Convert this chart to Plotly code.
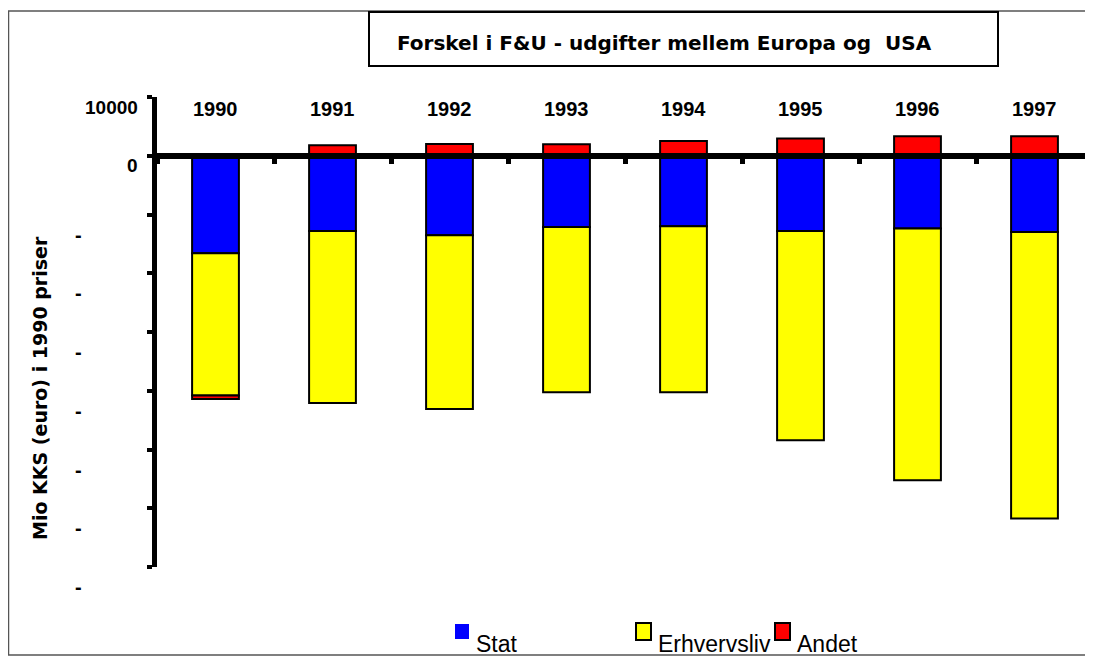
import plotly.graph_objects as go

years = ["1990", "1991", "1992", "1993", "1994", "1995", "1996", "1997"]
stat = [-16600, -12800, -13530, -12110, -12000, -12800, -12400, -12970]
erhvervsliv = [-24200, -29270, -29560, -28140, -28250, -35630, -42840, -48780]
andet = [-600, 1790, 2000, 1960, 2520, 2920, 3320, 3320]

y_ticks = [10000, 0, -10000, -20000, -30000, -40000, -50000, -60000, -70000]
y_labels = ["10000", "0", "-", "-", "-", "-", "-", "-", "-"]

title = "Forskel i F&U - udgifter mellem Europa og  USA"
y_title = "Mio KKS (euro) i 1990 priser"
series_names = ["Stat", "Erhvervsliv", "Andet"]
colors = ["#0000FF", "#FFFF00", "#FF0000"]

OFF = 8  # page body margin
W, H = 1085, 649
L, R, T, B = 149, 0, 89, 90
PW, PH = W - L - R, H - T - B
ARIAL = "Liberation Sans, Arial, sans-serif"
WIDE = "DejaVu Sans, Liberation Sans, sans-serif"


def px(x):
    return (x - OFF - L) / PW


def py(y):
    return (H - B - (y - OFF)) / PH


fig = go.Figure()
for name, vals, col in zip(series_names, [stat, erhvervsliv, andet], colors):
    fig.add_trace(go.Bar(
        x=years, y=vals, name=name,
        marker=dict(color=col, line=dict(color="black", width=2)),
        showlegend=False,
    ))

ann = []
# year labels
for i, yr in enumerate(years):
    ann.append(dict(x=i, y=10000, xref="x", yref="y", text="<b>%s</b>" % yr,
                    showarrow=False, yshift=-12, font=dict(family=ARIAL, size=20, color="black")))
# y tick labels
for v, lab in zip(y_ticks, y_labels):
    if lab == "-":
        ann.append(dict(x=px(78), y=v, xref="paper", yref="y", text="<b>-</b>", showarrow=False,
                        xanchor="center", yshift=-20, font=dict(family=ARIAL, size=20, color="black")))
    else:
        ann.append(dict(x=px(140), y=v, xref="paper", yref="y", text="<b>%s</b>" % lab, showarrow=False,
                        xanchor="right", yshift=-10, font=dict(family=ARIAL, size=19, color="black")))
# title
ann.append(dict(x=px(664), y=py(43), xref="paper", yref="paper", text="<b>%s</b>" % title,
                showarrow=False, xanchor="center", yanchor="middle",
                font=dict(family=WIDE, size=20, color="black")))
# y axis title
ann.append(dict(x=px(40), y=py(388), xref="paper", yref="paper", text="<b>%s</b>" % y_title,
                showarrow=False, textangle=-90, xanchor="center", yanchor="middle",
                font=dict(family=WIDE, size=19, color="black")))

shapes = [
    # outer chart border
    dict(type="rect", xref="paper", yref="paper", x0=px(8.5), x1=px(1100), y0=py(655), y1=py(11),
         line=dict(color="#555555", width=1.5)),
    # title box
    dict(type="rect", xref="paper", yref="paper", x0=px(369), x1=px(998), y0=py(66), y1=py(12),
         fillcolor="white", line=dict(color="black", width=2)),
]

# manual legend (swatch boxes + labels)
legend_sq = [(455, 624, 469, 639, False, 474), (636, 623, 651, 640, True, 656), (775, 623, 790, 640, True, 795)]
for (x0, y0, x1, y1, border, tx), name, col in zip(legend_sq, series_names, colors):
    shapes.append(dict(type="rect", xref="paper", yref="paper", x0=px(x0), x1=px(x1),
                       y0=py(y1), y1=py(y0), fillcolor=col,
                       line=dict(color="black" if border else col, width=2 if border else 0)))
    ann.append(dict(x=px(tx), y=py(644), xref="paper", yref="paper", text=name, showarrow=False,
                    xanchor="left", yanchor="middle", font=dict(family=ARIAL, size=23, color="black")))

fig.update_layout(
    width=W, height=H,
    margin=dict(l=L, r=R, t=T, b=B, pad=0),
    barmode="relative",
    bargap=0.6,
    plot_bgcolor="white", paper_bgcolor="white",
    annotations=ann, shapes=shapes,
    showlegend=False,
    xaxis=dict(
        type="category", range=[-0.5, 7.5], anchor="free", position=py(155.7),
        showline=True, linecolor="black", linewidth=6,
        ticks="outside", tickson="boundaries", ticklen=5, tickwidth=5, tickcolor="black",
        showticklabels=False, showgrid=False, zeroline=False,
    ),
    yaxis=dict(
        range=[-70000, 10000], tickvals=y_ticks, showticklabels=False,
        showline=True, linecolor="black", linewidth=5,
        ticks="outside", ticklen=5, tickwidth=4, tickcolor="black",
        showgrid=False, zeroline=False,
    ),
)

fig.write_html("out.html")
